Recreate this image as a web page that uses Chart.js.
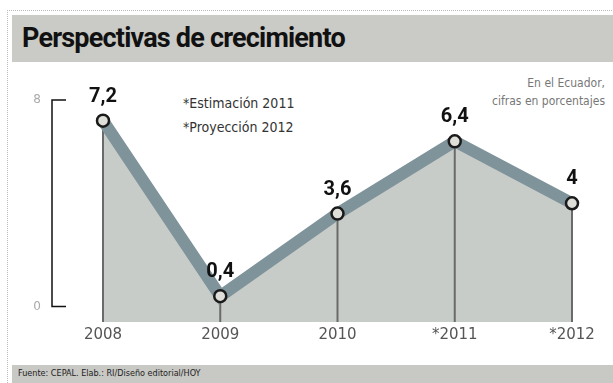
<!DOCTYPE html>
<html>
<head>
<meta charset="utf-8">
<script src="https://cdn.jsdelivr.net/npm/chart.js@4"></script>
<style>
  body { margin: 0; background: #fff; }
  #wrap { position: relative; width: 613px; height: 383px; overflow: hidden; font-family: "DejaVu Sans", sans-serif; font-stretch: condensed; }
  #frame { position: absolute; left: 7px; top: 10px; width: 620px; height: 400px; border-left: 1px dotted #bbb; border-top: 1px dotted #bbb; }
  #titlebar { position: absolute; left: 12px; top: 15px; width: 601px; height: 47px; background: #cacac6; }
  #title { position: absolute; left: 22px; top: 22px; font-family: Roboto, sans-serif; font-stretch: normal; font-size: 27px; font-weight: bold; color: #111; letter-spacing: -0.8px; }
  #footer { position: absolute; left: 12px; top: 365px; width: 601px; height: 18px; background: #c8c8c4; }
  #source { position: absolute; left: 18px; top: 368px; font-size: 9px; color: #222; }
  .note { position: absolute; font-size: 14px; color: #333; }
  .unit { position: absolute; right: 8px; font-size: 12px; color: #777; text-align: right; }
  canvas { position: absolute; left: 0; top: 0; }
</style>
</head>
<body>
<div id="wrap">
  <div id="frame"></div>
  <div id="titlebar"></div>
  <div id="title">Perspectivas de crecimiento</div>
  <div class="note" style="left:183px; top:95px;">*Estimación 2011</div>
  <div class="note" style="left:183px; top:119px;">*Proyección 2012</div>
  <div class="unit" style="top:76px;">En el Ecuador,</div>
  <div class="unit" style="top:94px;">cifras en porcentajes</div>
  <div id="footer"></div>
  <div id="source">Fuente: CEPAL. Elab.: RI/Diseño editorial/HOY</div>
  <canvas id="chart" width="613" height="383"></canvas>
</div>
<script>
const years = ['2008', '2009', '2010', '*2011', '*2012'];
const growth = [7.2, 0.4, 3.6, 6.4, 4];
const yTicks = [0, 8];

// vertical drop lines, y bracket and value labels
const decor = {
  id: 'decor',
  beforeDatasetsDraw(chart) {
    const ctx = chart.ctx;
    const meta = chart.getDatasetMeta(0);
    const bottom = chart.chartArea.bottom;
    ctx.save();
    ctx.strokeStyle = '#6a6a6a';
    ctx.lineWidth = 2;
    meta.data.forEach((pt) => {
      ctx.beginPath();
      ctx.moveTo(pt.x, pt.y);
      ctx.lineTo(pt.x, bottom);
      ctx.stroke();
    });
    ctx.restore();
  },
  afterDatasetsDraw(chart) {
    const ctx = chart.ctx;
    const y = chart.scales.y;
    const meta = chart.getDatasetMeta(0);
    ctx.save();
    // bracket axis
    const top = y.getPixelForValue(yTicks[1]);
    const zero = y.getPixelForValue(yTicks[0]);
    ctx.strokeStyle = '#111';
    ctx.lineWidth = 1.5;
    ctx.beginPath();
    ctx.moveTo(66, top);
    ctx.lineTo(52, top);
    ctx.lineTo(52, zero);
    ctx.lineTo(66, zero);
    ctx.stroke();
    ctx.fillStyle = '#aaa';
    ctx.font = '12px "DejaVu Sans", sans-serif';
    ctx.textAlign = 'right';
    ctx.textBaseline = 'middle';
    yTicks.forEach((t) => ctx.fillText(String(t), 41, y.getPixelForValue(t)));
    // value labels
    ctx.fillStyle = '#111';
    ctx.font = 'bold 20px Roboto, sans-serif';
    ctx.textAlign = 'center';
    ctx.textBaseline = 'bottom';
    meta.data.forEach((pt, i) => {
      ctx.fillText(String(growth[i]).replace('.', ','), pt.x, pt.y - 14);
    });
    ctx.restore();
  }
};

new Chart(document.getElementById('chart'), {
  type: 'line',
  data: {
    labels: years,
    datasets: [{
      data: growth,
      borderColor: '#7f939a',
      borderWidth: 12,
      borderJoinStyle: 'miter',
      backgroundColor: '#c8ccc8',
      fill: 'start',
      tension: 0,
      pointRadius: 6,
      pointBorderWidth: 2.5,
      pointBackgroundColor: '#dedfd9',
      pointBorderColor: '#1a1a1a'
    }]
  },
  options: {
    responsive: false,
    animation: false,
    layout: { padding: { left: 103, right: 41, top: 100, bottom: 43 } },
    plugins: {
      legend: { display: false },
      tooltip: { enabled: false },
      filler: { drawTime: 'beforeDatasetsDraw' }
    },
    scales: {
      x: {
        offset: false,
        grid: { display: false },
        border: { display: false },
        ticks: {
          color: '#555',
          padding: -4,
          maxRotation: 0,
          font: { size: 15, family: '"DejaVu Sans", sans-serif' }
        }
      },
      y: {
        display: false,
        min: -0.6,
        max: 8
      }
    }
  },
  plugins: [decor]
});
</script>
</body>
</html>
